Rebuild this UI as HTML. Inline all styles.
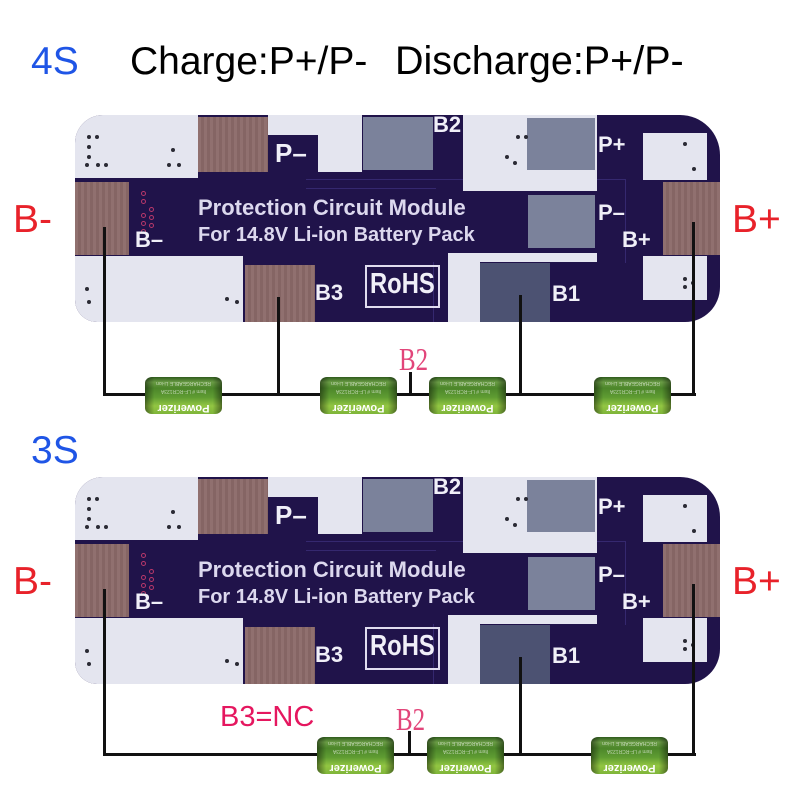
<!DOCTYPE html>
<html>
<head>
<meta charset="utf-8">
<style>
  html,body{margin:0;padding:0;background:#fff;}
  #root{position:relative;width:800px;height:800px;overflow:hidden;background:#fff;font-family:"Liberation Sans",Arial,sans-serif;}
  .t{position:absolute;white-space:nowrap;line-height:1;}
  .board{position:absolute;width:645px;height:207px;background:#20134a;overflow:hidden;
    border-radius:28px 40px 35px 22px;}
  .board div{position:absolute;}
  .w{background:#e4e5ef;}
  .br{background:#8c6a69;background-image:repeating-linear-gradient(90deg,rgba(255,255,255,0.04) 0 3px,rgba(0,0,0,0.05) 3px 6px);}
  .gr{background:#7b829b;}
  .dk{background:#4c5272;}
  .lb{font-weight:bold;color:#f0eff8;white-space:nowrap;line-height:1;font-family:"Liberation Sans",Arial,sans-serif;}
  .txt{font-weight:bold;color:#dcd8ee;white-space:nowrap;line-height:1;font-family:"Liberation Sans",Arial,sans-serif;}
  .dot{width:4px;height:4px;border-radius:50%;background:#2a2a34;}
  .ring{width:5px;height:5px;border-radius:50%;border:1px solid #b8386a;box-sizing:border-box;}
  .trace{background:#35286f;}
  .wire{position:absolute;background:#111;}
  .bat{position:absolute;width:77px;height:37px;border-radius:7px/6px;overflow:hidden;
    background:
      linear-gradient(to right,rgba(0,0,0,0.45),rgba(0,0,0,0) 12%,rgba(0,0,0,0) 88%,rgba(0,0,0,0.45)),
      linear-gradient(to bottom,#2f5b1d 0%,#6a9c45 14%,#4c862a 30%,#5f9c32 55%,#92c642 78%,#7fb53a 100%);}
  .bat .p{position:absolute;left:0;right:0;bottom:1px;text-align:center;font:bold 11px "Liberation Sans",Arial,sans-serif;color:#fff;transform:rotate(180deg);line-height:11px;}
  .bat .s{position:absolute;left:0;right:0;text-align:center;font:5px "Liberation Sans",Arial,sans-serif;color:rgba(255,255,255,0.6);transform:rotate(180deg);line-height:5px;}
  .red{color:#e8222a;font-size:39px;}
  .blue{color:#1f55e6;font-size:39px;}
  .b2s{font-family:"Liberation Serif","Times New Roman",serif;font-size:32px;color:#e2457a;transform:scaleX(0.78);transform-origin:left top;}
</style>
</head>
<body>
<div id="root">

  <div class="t blue" style="left:31px;top:42px;">4S</div>
  <div class="t" style="left:130px;top:42px;font-size:39px;color:#000;">Charge:P+/P-</div>
  <div class="t" style="left:395px;top:42px;font-size:39.5px;color:#000;">Discharge:P+/P-</div>

  <div class="t red" style="left:13px;top:200px;">B-</div>
  <div class="t red" style="left:732px;top:200px;">B+</div>

  <div class="t blue" style="left:31px;top:431px;">3S</div>
  <div class="t red" style="left:13px;top:562px;">B-</div>
  <div class="t red" style="left:732px;top:562px;">B+</div>

  <!-- BOARD 1 -->
  <div class="board" style="left:75px;top:115px;">
    <div class="trace" style="left:231px;top:64px;width:319px;height:1px;"></div>
    <div class="trace" style="left:550px;top:64px;width:1px;height:84px;"></div>
    <div class="trace" style="left:231px;top:73px;width:130px;height:1px;"></div>
    <div class="trace" style="left:358px;top:147px;width:1px;height:60px;"></div>

    <div class="w" style="left:0;top:0;width:123px;height:63px;"></div>
    <div class="br" style="left:123px;top:2px;width:70px;height:55px;"></div>
    <div class="w" style="left:193px;top:0;width:94px;height:20px;"></div>
    <div class="w" style="left:243px;top:0;width:44px;height:57px;"></div>
    <div class="gr" style="left:288px;top:2px;width:70px;height:53px;"></div>
    <div class="w" style="left:388px;top:0;width:134px;height:76px;"></div>
    <div class="gr" style="left:452px;top:3px;width:68px;height:52px;"></div>
    <div class="w" style="left:568px;top:18px;width:64px;height:47px;"></div>
    <div class="br" style="left:0;top:67px;width:54px;height:73px;"></div>
    <div class="br" style="left:588px;top:67px;width:57px;height:73px;"></div>
    <div class="gr" style="left:453px;top:80px;width:67px;height:53px;"></div>
    <div class="w" style="left:0;top:141px;width:168px;height:66px;"></div>
    <div class="br" style="left:170px;top:150px;width:70px;height:57px;"></div>
    <div class="w" style="left:373px;top:138px;width:149px;height:9px;"></div>
    <div class="w" style="left:373px;top:138px;width:32px;height:69px;"></div>
    <div class="dk" style="left:405px;top:148px;width:70px;height:59px;"></div>
    <div class="w" style="left:568px;top:141px;width:64px;height:44px;"></div>

    <div class="dot" style="left:12px;top:20px;"></div><div class="dot" style="left:20px;top:20px;"></div>
    <div class="dot" style="left:12px;top:30px;"></div><div class="dot" style="left:12px;top:40px;"></div>
    <div class="dot" style="left:10px;top:48px;"></div><div class="dot" style="left:21px;top:48px;"></div><div class="dot" style="left:29px;top:48px;"></div>
    <div class="dot" style="left:96px;top:33px;"></div><div class="dot" style="left:92px;top:48px;"></div><div class="dot" style="left:102px;top:48px;"></div>
    <div class="dot" style="left:441px;top:20px;"></div><div class="dot" style="left:449px;top:20px;"></div><div class="dot" style="left:430px;top:40px;"></div><div class="dot" style="left:438px;top:46px;"></div>
    <div class="dot" style="left:608px;top:27px;"></div><div class="dot" style="left:617px;top:52px;"></div>
    <div class="dot" style="left:10px;top:172px;"></div><div class="dot" style="left:12px;top:185px;"></div><div class="dot" style="left:150px;top:182px;"></div><div class="dot" style="left:160px;top:185px;"></div>
    <div class="dot" style="left:608px;top:162px;"></div><div class="dot" style="left:608px;top:170px;"></div><div class="dot" style="left:616px;top:166px;"></div>

    <div class="ring" style="left:66px;top:76px;"></div><div class="ring" style="left:66px;top:84px;"></div><div class="ring" style="left:66px;top:98px;"></div>
    <div class="ring" style="left:66px;top:106px;"></div><div class="ring" style="left:66px;top:114px;"></div>
    <div class="ring" style="left:74px;top:92px;"></div><div class="ring" style="left:74px;top:100px;"></div><div class="ring" style="left:74px;top:108px;"></div>

    <div class="lb" style="left:200px;top:25px;font-size:26px;">P–</div>
    <div class="lb" style="left:358px;top:-1px;font-size:22px;">B2</div>
    <div class="lb" style="left:523px;top:19px;font-size:22px;">P+</div>
    <div class="lb" style="left:523px;top:87px;font-size:22px;">P–</div>
    <div class="lb" style="left:547px;top:114px;font-size:22px;">B+</div>
    <div class="lb" style="left:60px;top:114px;font-size:22px;">B–</div>
    <div class="lb" style="left:240px;top:167px;font-size:22px;">B3</div>
    <div class="lb" style="left:477px;top:168px;font-size:22px;">B1</div>
    <div class="txt" style="left:123px;top:82px;font-size:22px;">Protection Circuit Module</div>
    <div class="txt" style="left:123px;top:110px;font-size:20px;">For 14.8V Li-ion Battery Pack</div>
    <div style="left:290px;top:150px;width:75px;height:43px;border:2px solid #e0dcef;box-sizing:border-box;"></div>
    <div class="lb" style="left:295px;top:155px;font-size:29px;transform:scaleX(0.82);transform-origin:left top;">RoHS</div>
  </div>

  <!-- BOARD 2 -->
  <div class="board" style="left:75px;top:477px;">
    <div class="trace" style="left:231px;top:64px;width:319px;height:1px;"></div>
    <div class="trace" style="left:550px;top:64px;width:1px;height:84px;"></div>
    <div class="trace" style="left:231px;top:73px;width:130px;height:1px;"></div>
    <div class="trace" style="left:358px;top:147px;width:1px;height:60px;"></div>

    <div class="w" style="left:0;top:0;width:123px;height:63px;"></div>
    <div class="br" style="left:123px;top:2px;width:70px;height:55px;"></div>
    <div class="w" style="left:193px;top:0;width:94px;height:20px;"></div>
    <div class="w" style="left:243px;top:0;width:44px;height:57px;"></div>
    <div class="gr" style="left:288px;top:2px;width:70px;height:53px;"></div>
    <div class="w" style="left:388px;top:0;width:134px;height:76px;"></div>
    <div class="gr" style="left:452px;top:3px;width:68px;height:52px;"></div>
    <div class="w" style="left:568px;top:18px;width:64px;height:47px;"></div>
    <div class="br" style="left:0;top:67px;width:54px;height:73px;"></div>
    <div class="br" style="left:588px;top:67px;width:57px;height:73px;"></div>
    <div class="gr" style="left:453px;top:80px;width:67px;height:53px;"></div>
    <div class="w" style="left:0;top:141px;width:168px;height:66px;"></div>
    <div class="br" style="left:170px;top:150px;width:70px;height:57px;"></div>
    <div class="w" style="left:373px;top:138px;width:149px;height:9px;"></div>
    <div class="w" style="left:373px;top:138px;width:32px;height:69px;"></div>
    <div class="dk" style="left:405px;top:148px;width:70px;height:59px;"></div>
    <div class="w" style="left:568px;top:141px;width:64px;height:44px;"></div>

    <div class="dot" style="left:12px;top:20px;"></div><div class="dot" style="left:20px;top:20px;"></div>
    <div class="dot" style="left:12px;top:30px;"></div><div class="dot" style="left:12px;top:40px;"></div>
    <div class="dot" style="left:10px;top:48px;"></div><div class="dot" style="left:21px;top:48px;"></div><div class="dot" style="left:29px;top:48px;"></div>
    <div class="dot" style="left:96px;top:33px;"></div><div class="dot" style="left:92px;top:48px;"></div><div class="dot" style="left:102px;top:48px;"></div>
    <div class="dot" style="left:441px;top:20px;"></div><div class="dot" style="left:449px;top:20px;"></div><div class="dot" style="left:430px;top:40px;"></div><div class="dot" style="left:438px;top:46px;"></div>
    <div class="dot" style="left:608px;top:27px;"></div><div class="dot" style="left:617px;top:52px;"></div>
    <div class="dot" style="left:10px;top:172px;"></div><div class="dot" style="left:12px;top:185px;"></div><div class="dot" style="left:150px;top:182px;"></div><div class="dot" style="left:160px;top:185px;"></div>
    <div class="dot" style="left:608px;top:162px;"></div><div class="dot" style="left:608px;top:170px;"></div><div class="dot" style="left:616px;top:166px;"></div>

    <div class="ring" style="left:66px;top:76px;"></div><div class="ring" style="left:66px;top:84px;"></div><div class="ring" style="left:66px;top:98px;"></div>
    <div class="ring" style="left:66px;top:106px;"></div><div class="ring" style="left:66px;top:114px;"></div>
    <div class="ring" style="left:74px;top:92px;"></div><div class="ring" style="left:74px;top:100px;"></div><div class="ring" style="left:74px;top:108px;"></div>

    <div class="lb" style="left:200px;top:25px;font-size:26px;">P–</div>
    <div class="lb" style="left:358px;top:-1px;font-size:22px;">B2</div>
    <div class="lb" style="left:523px;top:19px;font-size:22px;">P+</div>
    <div class="lb" style="left:523px;top:87px;font-size:22px;">P–</div>
    <div class="lb" style="left:547px;top:114px;font-size:22px;">B+</div>
    <div class="lb" style="left:60px;top:114px;font-size:22px;">B–</div>
    <div class="lb" style="left:240px;top:167px;font-size:22px;">B3</div>
    <div class="lb" style="left:477px;top:168px;font-size:22px;">B1</div>
    <div class="txt" style="left:123px;top:82px;font-size:22px;">Protection Circuit Module</div>
    <div class="txt" style="left:123px;top:110px;font-size:20px;">For 14.8V Li-ion Battery Pack</div>
    <div style="left:290px;top:150px;width:75px;height:43px;border:2px solid #e0dcef;box-sizing:border-box;"></div>
    <div class="lb" style="left:295px;top:155px;font-size:29px;transform:scaleX(0.82);transform-origin:left top;">RoHS</div>
  </div>

  <!-- 4S wiring -->
  <div class="wire" style="left:103px;top:393px;width:593px;height:3px;"></div>
  <div class="wire" style="left:103px;top:227px;width:3px;height:169px;"></div>
  <div class="wire" style="left:277px;top:297px;width:3px;height:99px;"></div>
  <div class="wire" style="left:519px;top:295px;width:3px;height:101px;"></div>
  <div class="wire" style="left:692px;top:222px;width:3px;height:174px;"></div>
  <div class="wire" style="left:409px;top:372px;width:3px;height:22px;"></div>
  <div class="t b2s" style="left:399px;top:343px;">B2</div>

  <div class="bat" style="left:145px;top:377px;"><div class="s" style="top:3px;">RECHARGEABLE Li-ion</div><div class="s" style="top:11px;">Item # LF-RCR123A</div><div class="p">Powerizer</div></div>
  <div class="bat" style="left:320px;top:377px;"><div class="s" style="top:3px;">RECHARGEABLE Li-ion</div><div class="s" style="top:11px;">Item # LF-RCR123A</div><div class="p">Powerizer</div></div>
  <div class="bat" style="left:429px;top:377px;"><div class="s" style="top:3px;">RECHARGEABLE Li-ion</div><div class="s" style="top:11px;">Item # LF-RCR123A</div><div class="p">Powerizer</div></div>
  <div class="bat" style="left:594px;top:377px;"><div class="s" style="top:3px;">RECHARGEABLE Li-ion</div><div class="s" style="top:11px;">Item # LF-RCR123A</div><div class="p">Powerizer</div></div>

  <!-- 3S wiring -->
  <div class="wire" style="left:103px;top:753px;width:593px;height:3px;"></div>
  <div class="wire" style="left:103px;top:589px;width:3px;height:167px;"></div>
  <div class="wire" style="left:519px;top:657px;width:3px;height:99px;"></div>
  <div class="wire" style="left:692px;top:584px;width:3px;height:172px;"></div>
  <div class="wire" style="left:408px;top:731px;width:3px;height:22px;"></div>
  <div class="t b2s" style="left:396px;top:703px;">B2</div>
  <div class="t" style="left:220px;top:703px;font-size:29px;color:#e5175f;">B3=NC</div>

  <div class="bat" style="left:317px;top:737px;"><div class="s" style="top:3px;">RECHARGEABLE Li-ion</div><div class="s" style="top:11px;">Item # LF-RCR123A</div><div class="p">Powerizer</div></div>
  <div class="bat" style="left:427px;top:737px;"><div class="s" style="top:3px;">RECHARGEABLE Li-ion</div><div class="s" style="top:11px;">Item # LF-RCR123A</div><div class="p">Powerizer</div></div>
  <div class="bat" style="left:591px;top:737px;"><div class="s" style="top:3px;">RECHARGEABLE Li-ion</div><div class="s" style="top:11px;">Item # LF-RCR123A</div><div class="p">Powerizer</div></div>

</div>
</body>
</html>
